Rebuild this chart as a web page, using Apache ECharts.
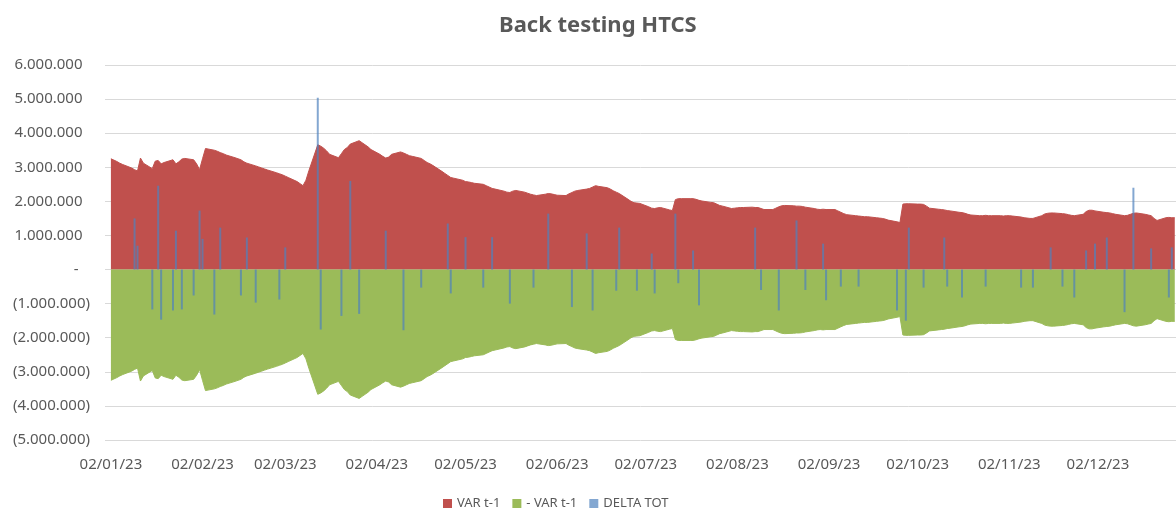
<!DOCTYPE html>
<html>
<head>
<meta charset="utf-8">
<title>Back testing HTCS</title>
<script src="https://cdn.jsdelivr.net/npm/echarts@6/dist/echarts.min.js"></script>
<style>
  html, body { margin: 0; padding: 0; background: #fff; }
  #chart { width: 1176px; height: 515px; }
</style>
</head>
<body>
<div id="chart"></div>
<script>
// VAR t-1 per business day (Mon-Fri) from 02/01/23, in millions
const varT1 = [
  3.25, 3.21, 3.17, 3.12, 3.08,
  2.98, 2.93, 2.89, 3.27, 3.12,
  2.96, 3.18, 3.20, 3.10, 3.14,
  3.22, 3.10, 3.16, 3.24, 3.26,
  3.22, 3.10, 2.93, 3.25, 3.55,
  3.50, 3.47, 3.43, 3.40, 3.36,
  3.28, 3.25, 3.22, 3.16, 3.12,
  3.04, 3.01, 2.98, 2.95, 2.92,
  2.84, 2.81, 2.78, 2.74, 2.70,
  2.58, 2.52, 2.46, 2.62, 2.90,
  3.66, 3.62, 3.56, 3.48, 3.38,
  3.28, 3.40, 3.52, 3.58, 3.68,
  3.78, 3.72, 3.66, 3.60, 3.52,
  3.38, 3.32, 3.27, 3.30, 3.38,
  3.45, 3.42, 3.38, 3.34, 3.32,
  3.26, 3.20, 3.14, 3.10, 3.05,
  2.88, 2.82, 2.76, 2.70, 2.68,
  2.62, 2.58, 2.57, 2.55, 2.53,
  2.50, 2.46, 2.42, 2.38, 2.36,
  2.30, 2.27, 2.26, 2.30, 2.32,
  2.27, 2.24, 2.21, 2.19, 2.17,
  2.21, 2.23, 2.22, 2.20, 2.18,
  2.17, 2.22, 2.26, 2.30, 2.32,
  2.36, 2.38, 2.42, 2.46, 2.44,
  2.40, 2.36, 2.31, 2.27, 2.23,
  2.06, 2.00, 1.96, 1.95, 1.94,
  1.84, 1.80, 1.79, 1.81, 1.82,
  1.75, 1.73, 2.05, 2.08, 2.08,
  2.08, 2.08, 2.06, 2.03, 2.01,
  1.97, 1.96, 1.92, 1.88, 1.86,
  1.79, 1.80, 1.81, 1.82, 1.82,
  1.83, 1.82, 1.82, 1.79, 1.76,
  1.76, 1.80, 1.84, 1.87, 1.88,
  1.87, 1.86, 1.86, 1.85, 1.83,
  1.79, 1.77, 1.76, 1.77, 1.76,
  1.76, 1.72, 1.68, 1.64, 1.61,
  1.58, 1.57, 1.56, 1.55, 1.55,
  1.52, 1.51, 1.50, 1.48, 1.45,
  1.40, 1.38, 1.92, 1.93, 1.93,
  1.92, 1.92, 1.91, 1.86, 1.80,
  1.77, 1.76, 1.75, 1.73, 1.72,
  1.68, 1.67, 1.65, 1.62, 1.60,
  1.58, 1.58, 1.59, 1.58, 1.58,
  1.58, 1.57, 1.58, 1.58, 1.57,
  1.54, 1.52, 1.51, 1.50, 1.50,
  1.58, 1.63, 1.65, 1.66, 1.66,
  1.64, 1.63, 1.61, 1.59, 1.58,
  1.62, 1.70, 1.74, 1.74, 1.72,
  1.68, 1.67, 1.66, 1.64, 1.62,
  1.58, 1.59, 1.62, 1.65, 1.66,
  1.62, 1.60, 1.58, 1.50, 1.44,
  1.52, 1.53, 1.52, 1.52
];

// DELTA TOT days with a visible bar, in millions
const deltaDates = [
  '2023-01-10', '2023-01-11', '2023-01-16', '2023-01-18', '2023-01-19', '2023-01-23',
  '2023-01-24', '2023-01-26', '2023-01-30', '2023-02-01', '2023-02-02', '2023-02-06',
  '2023-02-08', '2023-02-15', '2023-02-17', '2023-02-20', '2023-02-28', '2023-03-02',
  '2023-03-13', '2023-03-14', '2023-03-21', '2023-03-24', '2023-03-27', '2023-04-05',
  '2023-04-11', '2023-04-17', '2023-04-26', '2023-04-27', '2023-05-02', '2023-05-08',
  '2023-05-11', '2023-05-17', '2023-05-25', '2023-05-30', '2023-06-07', '2023-06-12',
  '2023-06-14', '2023-06-22', '2023-06-23', '2023-06-29', '2023-07-04', '2023-07-05',
  '2023-07-12', '2023-07-13', '2023-07-18', '2023-07-20', '2023-08-08', '2023-08-10',
  '2023-08-16', '2023-08-22', '2023-08-25', '2023-08-31', '2023-09-01', '2023-09-06',
  '2023-09-12', '2023-09-25', '2023-09-28', '2023-09-29', '2023-10-04', '2023-10-11',
  '2023-10-12', '2023-10-17', '2023-10-25', '2023-11-06', '2023-11-10', '2023-11-16',
  '2023-11-20', '2023-11-24', '2023-11-28', '2023-12-01', '2023-12-05', '2023-12-11',
  '2023-12-14', '2023-12-20', '2023-12-26', '2023-12-27'
];
const deltaTot = [
  1.50, 0.70, -1.17, 2.46, -1.47, -1.20,
  1.14, -1.17, -0.76, 1.73, 0.90, -1.32,
  1.23, -0.76, 0.94, -0.97, -0.88, 0.65,
  5.04, -1.76, -1.36, 2.60, -1.30, 1.14,
  -1.78, -0.53, 1.35, -0.70, 0.95, -0.53,
  0.95, -1.00, -0.53, 1.64, -1.10, 1.06,
  -1.20, -0.62, 1.23, -0.62, 0.47, -0.70,
  1.64, -0.40, 0.56, -1.05, 1.23, -0.60,
  -1.20, 1.44, -0.60, 0.76, -0.90, -0.50,
  -0.50, -1.20, -1.50, 1.23, -0.53, 0.94,
  -0.50, -0.82, -0.50, -0.53, -0.53, 0.65,
  -0.50, -0.82, 0.56, 0.76, 0.94, -1.25,
  2.40, 0.62, -0.82, 0.65
];

// x axis labels (dd/mm/yy), one per month
const xTickDates = [
  '2023-01-02', '2023-02-02', '2023-03-02', '2023-04-02', '2023-05-02', '2023-06-02',
  '2023-07-02', '2023-08-02', '2023-09-02', '2023-10-02', '2023-11-02', '2023-12-02'
];

const MILLION = 1000000;

function toTime(s) {
  const p = s.split('-').map(Number);
  return new Date(p[0], p[1] - 1, p[2]).getTime();
}

// business days from 02/01/23
function businessDays(n) {
  const out = [];
  const d = new Date(2023, 0, 2);
  while (out.length < n) {
    const w = d.getDay();
    if (w !== 0 && w !== 6) out.push(d.getTime());
    d.setDate(d.getDate() + 1);
  }
  return out;
}

function pad2(n) { return (n < 10 ? '0' : '') + n; }

function fmtDate(t) {
  const d = new Date(t);
  return pad2(d.getDate()) + '/' + pad2(d.getMonth() + 1) + '/' + String(d.getFullYear()).slice(2);
}

// accounting format: 1.000.000 / (1.000.000) / -
function fmtAmount(v) {
  const n = Math.round(Math.abs(v) * MILLION);
  if (n === 0) return '-\u2002 ';
  const s = String(n).replace(/\B(?=(\d{3})+(?!\d))/g, '.');
  return v < 0 ? '(' + s + ')' : s + '\u2002';
}

const days = businessDays(varT1.length);
const varData = varT1.map((v, i) => [days[i], v]);
const negVarData = varT1.map((v, i) => [days[i], -v]);
const deltaData = deltaTot.map((v, i) => [toTime(deltaDates[i]), v]);

const textColor = '#595959';
const fontFamily = '"Noto Sans", "Open Sans", sans-serif';

const option = {
  backgroundColor: '#fff',
  animation: false,
  title: {
    text: 'Back testing HTCS',
    left: 494,
    top: 10,
    textStyle: { color: textColor, fontSize: 22, fontWeight: 'bold', fontFamily: fontFamily }
  },
  legend: {
    left: 438,
    top: 492,
    icon: 'rect',
    itemWidth: 9,
    itemHeight: 9,
    itemGap: 12,
    textStyle: { color: textColor, fontSize: 13, fontFamily: fontFamily },
    data: ['VAR t-1', '- VAR t-1', 'DELTA TOT']
  },
  grid: { left: 105, right: 0, top: 65, bottom: 75 },
  // numeric axis holding timestamps, labels placed on the 2nd of each month
  xAxis: {
    type: 'value',
    min: new Date(2022, 11, 31).getTime(),
    max: new Date(2023, 11, 28, 10).getTime(),
    axisLine: { show: false, onZero: false },
    axisTick: { show: false },
    splitLine: { show: false },
    axisLabel: {
      customValues: xTickDates.map(toTime),
      formatter: function (v) { return fmtDate(v); },
      color: textColor,
      fontSize: 15,
      fontFamily: fontFamily,
      margin: 17,
      hideOverlap: false
    }
  },
  yAxis: {
    type: 'value',
    min: -5,
    max: 6,
    interval: 1,
    axisLine: { show: false },
    axisTick: { show: false },
    splitLine: { lineStyle: { color: '#D9D9D9', width: 1 } },
    axisLabel: {
      formatter: fmtAmount,
      color: textColor,
      fontSize: 15,
      fontFamily: fontFamily,
      margin: 15
    }
  },
  series: [
    {
      name: 'VAR t-1',
      type: 'line',
      data: varData,
      showSymbol: false,
      symbol: 'none',
      color: '#C0504D',
      lineStyle: { color: '#C0504D', width: 1 },
      areaStyle: { color: '#C0504D', opacity: 1 }
    },
    {
      name: '- VAR t-1',
      type: 'line',
      data: negVarData,
      showSymbol: false,
      symbol: 'none',
      color: '#9BBB59',
      lineStyle: { color: '#9BBB59', width: 1 },
      areaStyle: { color: '#9BBB59', opacity: 1 }
    },
    {
      name: 'DELTA TOT',
      type: 'bar',
      z: 5,
      data: deltaData,
      barWidth: 2,
      color: '#4F81BD',
      itemStyle: { color: '#4F81BD', opacity: 0.7 }
    }
  ]
};

const myChart = echarts.init(document.getElementById('chart'));
myChart.setOption(option);
window.addEventListener('resize', () => { myChart.resize(); });
</script>
</body>
</html>
